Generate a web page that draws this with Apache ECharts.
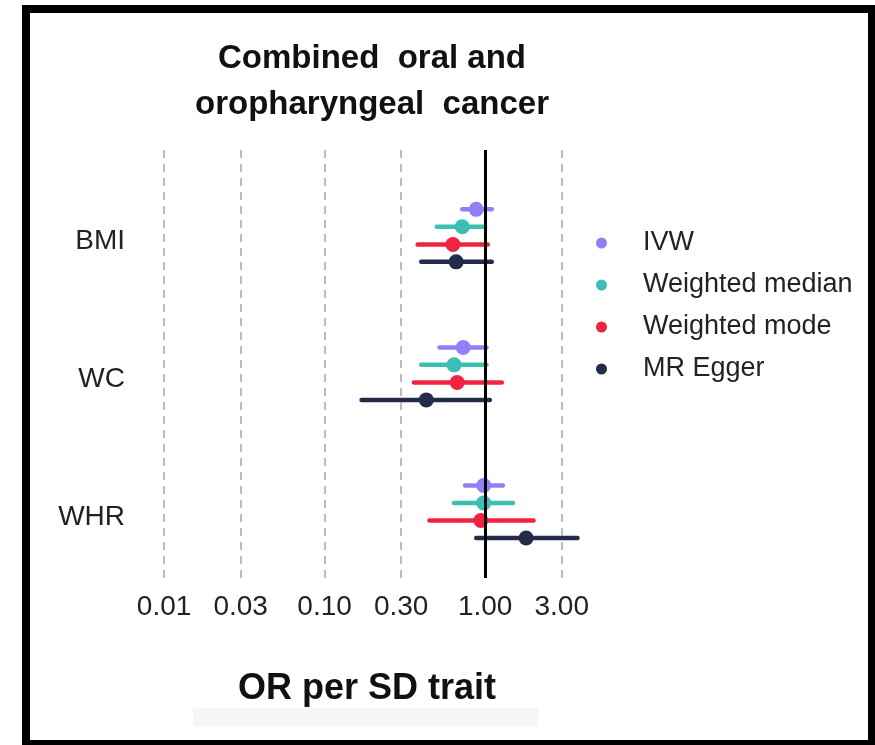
<!DOCTYPE html>
<html>
<head>
<meta charset="utf-8">
<script src="https://cdn.jsdelivr.net/npm/echarts@6/dist/echarts.min.js"></script>
<style>
  html, body { margin: 0; padding: 0; background: #fff; }
  #main { width: 875px; height: 745px; }
</style>
</head>
<body>
<div id="main"></div>
<script>
// traits (rows) and MR methods (series)
const traits = ['BMI', 'WC', 'WHR'];
const methods = ['IVW', 'Weighted median', 'Weighted mode', 'MR Egger'];
const colors = ['#9180f5', '#3bbeb4', '#f02341', '#232d4b'];
const xTicks = [0.01, 0.03, 0.1, 0.3, 1, 3];

// odds ratios and 95% CI, order BMI, WC, WHR
const ivwOR = [0.88, 0.73, 0.98];
const ivwLow = [0.72, 0.52, 0.75];
const ivwHigh = [1.10, 1.02, 1.29];

const wmedOR = [0.72, 0.64, 0.98];
const wmedLow = [0.50, 0.40, 0.64];
const wmedHigh = [1.00, 1.02, 1.49];

const wmodeOR = [0.63, 0.67, 0.94];
const wmodeLow = [0.38, 0.36, 0.45];
const wmodeHigh = [1.04, 1.27, 2.00];

const eggerOR = [0.66, 0.43, 1.80];
const eggerLow = [0.40, 0.17, 0.88];
const eggerHigh = [1.10, 1.07, 3.76];

const methodData = [
    [ivwOR, ivwLow, ivwHigh],
    [wmedOR, wmedLow, wmedHigh],
    [wmodeOR, wmodeLow, wmodeHigh],
    [eggerOR, eggerLow, eggerHigh]
];
// vertical dodge of the 4 methods inside a trait row
const dodge = [-0.19, -0.064, 0.064, 0.19];

const font = '"Liberation Sans", Arial, sans-serif';
var myChart = echarts.init(document.getElementById('main'));

var series = [];
// reference lines
series.push({
    type: 'line',
    data: [],
    z: 1,
    silent: true,
    markLine: {
        silent: true,
        symbol: ['none', 'none'],
        label: { show: false },
        animation: false,
        data: xTicks.map(function (v) {
            if (v === 1) {
                return { xAxis: v, lineStyle: { color: '#000', width: 3, type: 'solid' } };
            }
            return { xAxis: v, lineStyle: { color: '#a6a6a6', width: 1.5, type: [8, 6] } };
        })
    }
});

methods.forEach(function (m, i) {
    var d = methodData[i];
    var bars = traits.map(function (t, j) { return [d[1][j], d[2][j], j + 1 + dodge[i]]; });
    var pts = traits.map(function (t, j) { return [d[0][j], j + 1 + dodge[i]]; });
    series.push({
        name: m,
        type: 'custom',
        z: 2,
        itemStyle: { color: colors[i] },
        encode: { x: [0, 1], y: 2 },
        data: bars,
        renderItem: function (params, api) {
            var y = api.value(2);
            var a = api.coord([api.value(0), y]);
            var b = api.coord([api.value(1), y]);
            return {
                type: 'line',
                shape: { x1: a[0], y1: a[1], x2: b[0], y2: b[1] },
                style: { stroke: colors[i], lineWidth: 4.5, lineCap: 'round' }
            };
        }
    });
    series.push({
        name: m,
        type: 'scatter',
        z: 3,
        symbol: 'circle',
        symbolSize: 15,
        itemStyle: { color: colors[i], opacity: 1 },
        data: pts
    });
});

var option = {
    animation: false,
    textStyle: { fontFamily: font },
    title: {
        text: 'Combined  oral and\noropharyngeal  cancer',
        left: 372,
        top: 36,
        padding: 0,
        textAlign: 'center',
        textStyle: { fontSize: 33, fontWeight: 'bold', color: '#111', lineHeight: 46, fontFamily: font }
    },
    legend: {
        data: methods.map(function (m) { return { name: m, icon: 'circle' }; }),
        orient: 'vertical',
        left: 591,
        top: 223,
        itemWidth: 11,
        itemHeight: 11,
        itemGap: 12,
        selectedMode: false,
        textStyle: { fontSize: 27, color: '#222', lineHeight: 30, padding: [0, 0, 0, 31], fontFamily: font }
    },
    grid: { left: 144, right: 285, top: 150, bottom: 167 },
    xAxis: {
        type: 'log',
        logBase: 10,
        min: 0.0075,
        max: 4.5,
        name: 'OR per SD trait',
        nameLocation: 'middle',
        nameGap: 93,
        nameTextStyle: { fontSize: 36, fontWeight: 'bold', color: '#111', fontFamily: font },
        axisLine: { show: false },
        axisTick: { show: false },
        splitLine: { show: false },
        axisLabel: {
            customValues: xTicks,
            fontSize: 28,
            color: '#222',
            margin: 15,
            formatter: function (v) { return Number(v).toFixed(2); }
        }
    },
    yAxis: {
        type: 'value',
        inverse: true,
        min: 0.38,
        max: 3.48,
        axisLine: { show: false },
        axisTick: { show: false },
        splitLine: { show: false },
        axisLabel: {
            customValues: [1, 2, 3],
            margin: 19,
            formatter: function (v) { return '{t|' + traits[Math.round(v) - 1] + '}'; },
            rich: {
                t: { fontSize: 28, color: '#222', padding: [12, 0, 0, 0], fontFamily: font }
            }
        }
    },
    graphic: [
        {
            type: 'rect',
            z: -1,
            shape: { x: 193, y: 708, width: 345, height: 18 },
            style: { fill: '#f6f6f6' }
        },
        {
            type: 'rect',
            z: 100,
            shape: { x: 26, y: 9, width: 846, height: 735 },
            style: { fill: 'none', stroke: '#000', lineWidth: 8 }
        }
    ],
    series: series
};

myChart.setOption(option);
</script>
</body>
</html>
